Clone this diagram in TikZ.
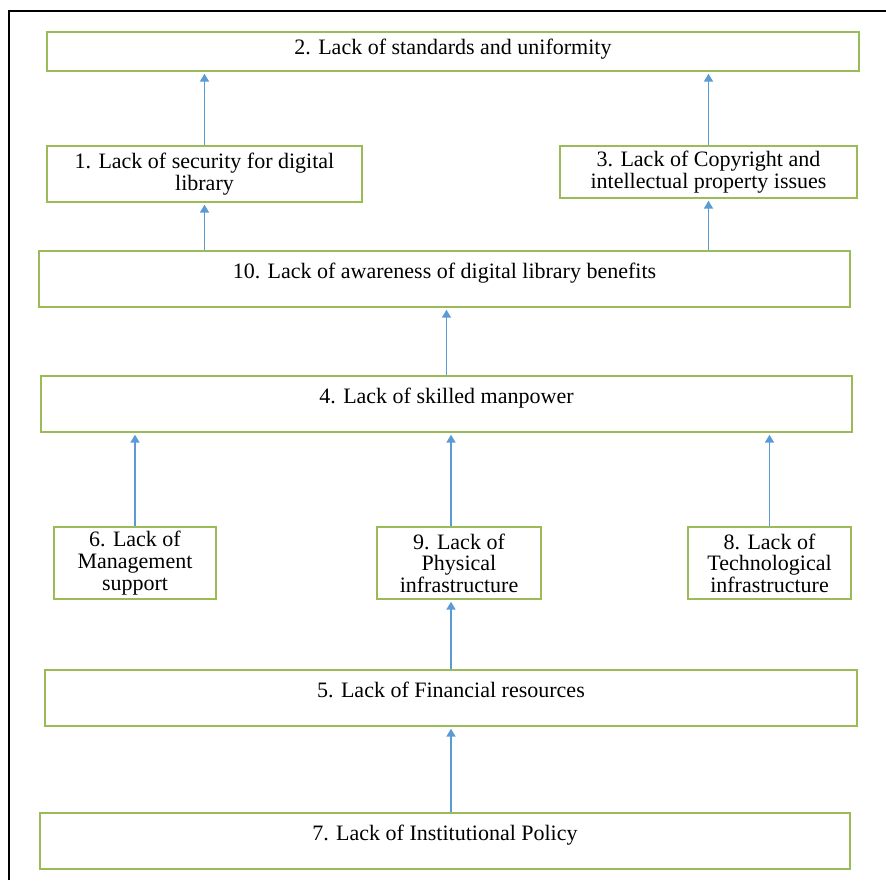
\documentclass[tikz,border=0pt]{standalone}
\usepackage{fontspec}
\setmainfont{Liberation Serif}
\usetikzlibrary{arrows.meta}
\definecolor{boxgreen}{HTML}{9BBB59}
\definecolor{arrowblue}{HTML}{5B9BD5}
\begin{document}
\begin{tikzpicture}[x=0.5pt,y=-0.5pt,
    box/.style={draw=boxgreen, line width=0.7pt, inner sep=0pt, align=center,
      font=\fontsize{11}{10.8}\selectfont},
    widebox/.style={box, minimum height=28pt, text height=7.5pt, text depth=8.5pt},
    arr/.style={draw=arrowblue, line width=0.9pt,
      -{Triangle[width=4.5pt,length=4pt]}, shorten >=1pt}]
            \useasboundingbox (0,0) rectangle (886,880);
            \draw[line width=1pt] (9,880) -- (9,11) -- (886,11);
            % top row
            \node[box, minimum width=406pt, minimum height=19.5pt, text height=7.5pt, text depth=5pt] (b2) at (453,51.5) {2. Lack of standards and uniformity};
            \node[box, minimum width=157.5pt, minimum height=28pt] (b1) at (204.5,174) {1. Lack of security for digital\\library};
            \node[box, minimum width=148.5pt, minimum height=26pt] (b3) at (708.5,172) {3. Lack of Copyright and\\intellectual property issues};
            \node[widebox, minimum width=405.5pt] (b10) at (444.5,279) {10. Lack of awareness of digital library benefits};
            \node[widebox, minimum width=405.5pt] (b4) at (446.5,404) {4. Lack of skilled manpower};
            % small boxes
            \node[box, minimum width=81pt, minimum height=36pt] (b6) at (135,563) {6. Lack of\\Management\\support};
            \node[box, minimum width=82pt, minimum height=36pt] (b9) at (459,563) {9. Lack of\\Physical\\infrastructure};
            \node[box, minimum width=81.5pt, minimum height=36pt] (b8) at (769.5,563) {8. Lack of\\Technological\\infrastructure};
            \node[widebox, minimum width=406pt] (b5) at (451,698) {5. Lack of Financial resources};
            \node[widebox, minimum width=405pt] (b7) at (445,841) {7. Lack of Institutional Policy};
            % arrows
            \draw[arr] (b1.north) -- (b1.north |- b2.south);
            \draw[arr] (b3.north) -- (b3.north |- b2.south);
            \draw[arr] (b1.south |- b10.north) -- (b1.south);
            \draw[arr] (b3.south |- b10.north) -- (b3.south);
            \draw[arr] (b4.north) -- (b4.north |- b10.south);
            \draw[arr] (b6.north) -- (b6.north |- b4.south);
            \draw[arr] (b5.north |- b9.north) -- (b5.north |- b4.south);
            \draw[arr] (b8.north) -- (b8.north |- b4.south);
            \draw[arr] (b5.north) -- (b5.north |- b9.south);
            \draw[arr] (b5.south |- b7.north) -- (b5.south);
            \end{tikzpicture}
\end{document}
